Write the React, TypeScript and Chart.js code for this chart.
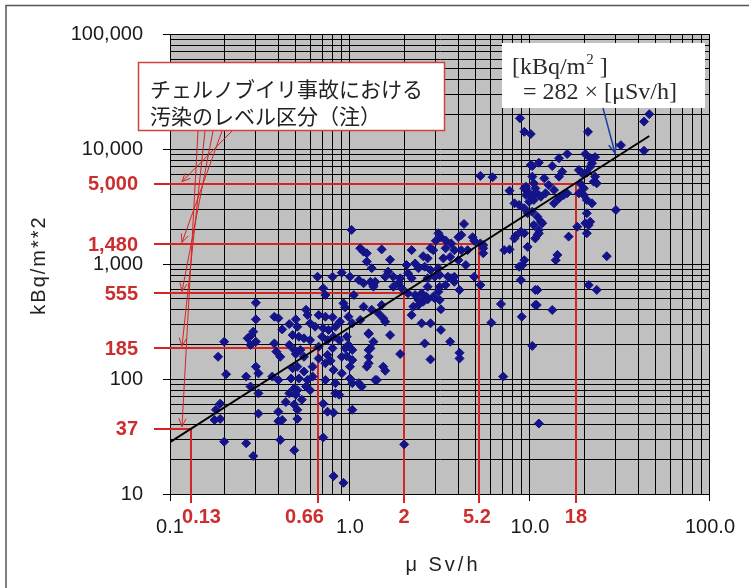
import React, { useEffect, useRef } from 'react';
import { Chart, registerables } from 'chart.js';

Chart.register(...registerables);

// Air dose rate (μSv/h) of each sampled point
const doseRate: number[] = [
  1.02, 1.14, 1.19, 1.24, 1.24, 1.32, 0.90, 0.66, 0.80, 1.0, 1.12, 1.19, 1.30, 1.35, 0.71, 0.73, 1.05, 0.30, 0.92, 0.94,
  0.57, 0.58, 1.19, 1.32, 0.67, 0.73, 0.80, 0.30, 0.38, 0.40, 0.50, 0.60, 0.64, 0.88, 0.98, 1.03, 1.14, 0.46, 0.42, 0.51,
  0.71, 0.76, 0.83, 0.29, 0.28, 0.27, 0.48, 0.52, 0.555, 0.60, 0.70, 0.75, 0.81, 0.87, 0.96, 0.98, 1.27, 0.20, 0.28, 0.30,
  0.38, 0.46, 0.49, 0.53, 0.67, 0.80, 0.94, 1.03, 1.30, 1.27, 0.185, 0.39, 0.41, 0.50, 0.555, 0.67, 0.75, 0.78, 0.90, 0.96,
  1.03, 0.30, 0.31, 0.205, 0.265, 0.37, 0.40, 0.48, 0.51, 0.555, 0.62, 0.73, 0.81, 0.90, 1.0, 1.27, 1.24, 0.47, 0.52, 0.58,
  0.62, 0.73, 0.83, 1.0, 1.03, 1.12, 1.16, 1.38, 0.28, 0.31, 0.49, 0.51, 0.57, 0.60, 0.83, 0.87, 0.46, 0.50, 0.19, 0.18,
  0.19, 0.177, 0.44, 0.49, 0.54, 0.71, 0.31, 0.40, 0.40, 0.42, 0.51, 0.51, 0.75, 0.81, 1.03, 0.71, 0.20, 0.265, 0.41, 0.49,
  0.29, 0.81, 0.92,
  10.1, 11.2, 10.3, 10.5, 5.3, 6.2, 7.7, 9.3, 9.7, 10.1, 10.7, 10.5, 9.9, 11.5, 8.2, 8.7, 9.3, 9.7, 10.3, 11.0,
  11.5, 10.5, 4.3, 8.9, 9.3, 8.3, 8.2, 11.0, 11.2, 10.7, 3.1, 3.2, 3.0, 3.4, 3.65, 4.0, 4.15, 4.8, 4.9, 5.5,
  5.5, 2.9, 2.8, 3.4, 3.8, 4.15, 4.5, 7.2, 7.7, 9.7, 1.50, 2.2, 2.55, 2.7, 3.3, 3.6, 4.0, 1.67, 2.06, 2.3,
  2.4, 2.6, 2.8, 3.1, 4.4, 9.1, 8.7, 9.3, 1.63, 1.57, 1.74, 1.9, 2.1, 2.2, 2.7, 2.96, 3.15, 3.5, 3.65, 3.8,
  4.9, 8.9, 1.35, 1.38, 1.74, 1.86, 1.94, 2.7, 3.15, 3.4, 3.8, 4.06, 5.3, 2.1, 2.3, 2.5, 2.66, 2.9, 3.1, 11.0,
  2.4, 2.55, 2.7, 2.96, 3.15, 1.5, 1.44, 2.25, 2.4, 3.2, 6.9, 10.9, 2.2, 1.53, 1.57, 2.5, 2.8, 6.1, 9.0, 1.27,
  1.35, 1.27, 1.67, 3.2, 2.6, 3.6, 4.06, 4.06, 1.9, 2.8, 1.53, 1.57, 1.41, 10.3, 7.1, 11.2, 2.0,
  8.8, 9.3, 10.1, 21, 43, 46, 43, 32, 16.1, 14.5, 10.3, 20.3, 21.6, 23, 22.1, 21.6, 13.3, 15.1, 14.5, 18.7,
  19.5, 20.7, 12.0, 23, 22.6, 23.5, 19.0, 19.9, 9.5, 10.7, 9.5, 11.2, 12.2, 12.7, 13.6, 14.5, 15.4, 16.1, 18.7, 19.9,
  13.6, 20.7, 22.1, 30, 11.7, 20.7, 21.6, 21.2, 20.3, 18.3, 11.2, 20.7, 16.4, 5.3, 5.5, 14.2, 13.9, 26.7, 23.5, 21.2,
  10.7, 10.7, 13.3,
];

// Soil deposition (kBq/m²) of the same points
const deposition: number[] = [
  1980, 1370, 1280, 1240, 1050, 920, 840, 775, 775, 775, 725, 680, 700, 635, 615, 537, 537, 460, 455, 420,
  400, 360, 425, 400, 360, 348, 344, 330, 348, 337, 330, 305, 285, 315, 348, 305, 326, 300, 270, 285,
  276, 267, 285, 258, 237, 226, 241, 233, 226, 218, 233, 218, 233, 218, 233, 198, 246, 211, 198, 211,
  204, 198, 179, 179, 191, 185, 185, 179, 185, 156, 156, 173, 156, 165, 156, 151, 162, 144, 156, 158,
  146, 128, 112, 110, 105, 105, 98, 124, 128, 116, 128, 137, 120, 112, 128, 137, 128, 101, 101, 98,
  105, 98, 92, 101, 92, 92, 86, 98, 86, 75, 83, 80, 86, 80, 75, 73, 75, 73, 61, 54,
  45, 44, 63, 60, 66, 61, 50, 52, 43, 44, 54, 45, 52, 51, 54, 31, 28.5, 27.6, 29.5, 24,
  21.4, 14.3, 12.5,
  7260, 7600, 5750, 5030, 5830, 5680, 4340, 4550, 4260, 3980, 4120, 3600, 3480, 3850, 3370, 3260, 3050, 2760, 2850, 2580,
  2330, 2180, 2230, 1910, 1850, 1750, 1670, 1790, 1980, 1670, 1850, 1710, 1590, 1600, 1510, 1710, 1790, 1710, 1590, 1460,
  1240, 1320, 1370, 1370, 1320, 1320, 1320, 1320, 1340, 1410, 1340, 1320, 1170, 1120, 1120, 1150, 1080, 1090, 980, 1010,
  918, 947, 887, 918, 980, 980, 947, 1080, 858, 775, 775, 752, 831, 752, 752, 775, 803, 775, 752, 775,
  775, 726, 656, 700, 635, 680, 615, 635, 635, 656, 700, 595, 656, 556, 537, 556, 520, 520, 575, 595,
  486, 470, 492, 502, 486, 440, 372, 426, 440, 404, 449, 440, 360, 337, 315, 305, 305, 309, 348, 250,
  211, 179, 241, 267, 204, 211, 169, 151, 165, 148, 128, 118, 98, 194, 105, 41, 27,
  18500, 14100, 13500, 14100, 17300, 20100, 9660, 10800, 9050, 8310, 7100, 9050, 8310, 8500, 7520, 7000, 7100, 6350, 5750, 6560,
  6150, 6230, 5560, 5750, 5200, 5030, 5030, 4550, 4700, 4550, 3980, 3980, 4120, 4860, 4400, 3720, 3980, 4120, 4120, 3980,
  3370, 3600, 3370, 2950, 2260, 2760, 2330, 2180, 2260, 2110, 1850, 1850, 1730, 1510, 1370, 1200, 1080, 1170, 595, 656,
  595, 440, 398,
];

// Regression line [kBq/m2] = 282 × [μSv/h]
const fitDose: number[] = [0.1, 46];
const fitDeposit: number[] = [28.2, 12970];

// Chernobyl contamination level classes
const levelDose: number[] = [0.13, 0.66, 2, 5.2, 18];
const levelDeposit: number[] = [37, 185, 555, 1480, 5000];
const levelDoseLabels: string[] = ['0.13', '0.66', '2', '5.2', '18'];
const levelDepositLabels: string[] = ['37', '185', '555', '1,480', '5,000'];

// Axis decade labels
const xMajorValues: number[] = [0.1, 1, 10, 100];
const xMajorLabels: string[] = ['0.1', '1.0', '10.0', '100.0'];
const yMajorValues: number[] = [10, 100, 1000, 10000, 100000];
const yMajorLabels: string[] = ['10', '100', '1,000', '10,000', '100,000'];

const xTitle = 'μ Sv/h';
const yTitle = 'kBq/m**2';
const noteLines: string[] = ['チェルノブイリ事故における', '汚染のレベル区分（注）'];
const formulaLine1 = '[kBq/m';
const formulaLine2 = '= 282 × [μSv/h]';

const RED_LINE = '#d42424';
const RED_TEXT = '#cc2e2e';
const SANS = '"Liberation Sans", Arial, sans-serif';

const near = (a: number, b: number) => Math.abs(a - b) / b < 1e-6;
const majorIndex = (arr: number[], v: number) => arr.findIndex((m) => near(v, m));

function logTicks(min: number, max: number) {
  const ticks: { value: number }[] = [];
  for (let e = Math.floor(Math.log10(min)); e <= Math.ceil(Math.log10(max)); e++) {
    for (let m = 1; m <= 9; m++) {
      const v = Number((m * Math.pow(10, e)).toPrecision(3));
      if (v >= min * 0.999999 && v <= max * 1.000001) ticks.push({ value: v });
    }
  }
  return ticks;
}

function arrowHead(ctx: CanvasRenderingContext2D, sx: number, sy: number, tx: number, ty: number, len: number) {
  const ang = Math.atan2(ty - sy, tx - sx);
  ctx.beginPath();
  ctx.moveTo(tx - len * Math.cos(ang - 0.42), ty - len * Math.sin(ang - 0.42));
  ctx.lineTo(tx, ty);
  ctx.lineTo(tx - len * Math.cos(ang + 0.42), ty - len * Math.sin(ang + 0.42));
  ctx.stroke();
}

const arrowStartX = [198, 205, 213, 222, 232];
const labelShiftX = [11, -13, 0, -2, 0];

const decorations = {
  id: 'decorations',
  beforeDraw(chart: any) {
    const { ctx, chartArea: a } = chart;
    ctx.save();
    ctx.fillStyle = '#ffffff';
    ctx.fillRect(0, 0, chart.width, chart.height);
    ctx.fillStyle = '#c0c0c0';
    ctx.fillRect(a.left, a.top, a.right - a.left, a.bottom - a.top);
    ctx.restore();
  },
  beforeDatasetsDraw(chart: any) {
    const { ctx, chartArea: a } = chart;
    const xs = chart.scales.x;
    const ys = chart.scales.y;
    ctx.save();
    ctx.strokeStyle = RED_LINE;
    ctx.lineWidth = 2;
    for (let i = 0; i < levelDose.length; i++) {
      const px = Math.round(xs.getPixelForValue(levelDose[i]));
      const py = Math.round(ys.getPixelForValue(levelDeposit[i]));
      ctx.beginPath();
      ctx.moveTo(a.left - 16, py);
      ctx.lineTo(px, py);
      ctx.lineTo(px, a.bottom + 9);
      ctx.stroke();
    }
    ctx.restore();
  },
  afterDraw(chart: any) {
    const { ctx, chartArea: a } = chart;
    const xs = chart.scales.x;
    const ys = chart.scales.y;
    ctx.save();

    // red level labels
    ctx.fillStyle = RED_TEXT;
    ctx.font = `bold 20px ${SANS}`;
    ctx.textBaseline = 'middle';
    for (let i = 0; i < levelDose.length; i++) {
      const px = xs.getPixelForValue(levelDose[i]);
      const py = ys.getPixelForValue(levelDeposit[i]);
      ctx.textAlign = 'right';
      ctx.fillText(levelDepositLabels[i], a.left - 32, py + 1);
      ctx.textAlign = 'center';
      ctx.fillText(levelDoseLabels[i], px + labelShiftX[i], a.bottom + 23);
    }

    // note box
    ctx.fillStyle = '#ffffff';
    ctx.fillRect(138, 62, 307, 69);
    ctx.strokeStyle = '#d04040';
    ctx.lineWidth = 1.5;
    ctx.strokeRect(138.5, 62.5, 306, 68);
    ctx.fillStyle = '#222222';
    ctx.font = '21px "Noto Sans CJK JP", sans-serif';
    ctx.textAlign = 'left';
    ctx.textBaseline = 'middle';
    ctx.fillText(noteLines[0], 150, 89);
    ctx.fillText(noteLines[1], 150, 116);

    // arrows from the note to each level
    ctx.strokeStyle = RED_LINE;
    ctx.lineWidth = 1;
    for (let i = 0; i < levelDeposit.length; i++) {
      const tx = a.left + 12;
      const ty = ys.getPixelForValue(levelDeposit[i]) - 2;
      const sx = arrowStartX[i];
      const sy = 131;
      ctx.beginPath();
      ctx.moveTo(sx, sy);
      ctx.lineTo(tx, ty);
      ctx.stroke();
      arrowHead(ctx, sx, sy, tx, ty, 9);
    }

    // formula box
    ctx.fillStyle = '#ffffff';
    ctx.fillRect(502, 43, 203, 65);
    ctx.fillStyle = '#2a2a2a';
    ctx.textBaseline = 'alphabetic';
    ctx.font = '24px "Liberation Serif", "Times New Roman", serif';
    ctx.fillText(formulaLine1, 512, 74);
    const w1 = ctx.measureText(formulaLine1).width;
    ctx.font = '15px "Liberation Serif", "Times New Roman", serif';
    ctx.fillText('2', 512 + w1 + 1, 64);
    const w2 = ctx.measureText('2').width;
    ctx.font = '24px "Liberation Serif", "Times New Roman", serif';
    ctx.fillText(' ]', 512 + w1 + w2 + 1, 74);
    ctx.fillText(formulaLine2, 523, 99);

    // blue arrow to the regression line
    ctx.strokeStyle = '#1f3f9f';
    ctx.lineWidth = 1.5;
    ctx.beginPath();
    ctx.moveTo(603, 108);
    ctx.lineTo(615, 153);
    ctx.stroke();
    arrowHead(ctx, 603, 108, 615, 153, 10);

    // axis titles
    ctx.fillStyle = '#222222';
    ctx.font = `20px ${SANS}`;
    ctx.textAlign = 'center';
    ctx.textBaseline = 'middle';
    (ctx as any).letterSpacing = '3px';
    ctx.fillText(xTitle, (a.left + a.right) / 2 + 3, 565);
    ctx.save();
    ctx.translate(39, (a.top + a.bottom) / 2 + 1);
    ctx.rotate(-Math.PI / 2);
    (ctx as any).letterSpacing = '2px';
    ctx.fillText(yTitle, 0, 0);
    ctx.restore();
    (ctx as any).letterSpacing = '0px';

    // frame
    ctx.strokeStyle = '#555555';
    ctx.lineWidth = 1.5;
    ctx.beginPath();
    ctx.moveTo(6, 588);
    ctx.lineTo(6, 5.5);
    ctx.lineTo(749, 5.5);
    ctx.stroke();

    ctx.restore();
  },
};

export default function App() {
  const canvasRef = useRef<HTMLCanvasElement | null>(null);

  useEffect(() => {
    const canvas = canvasRef.current;
    if (!canvas) return;
    const points = doseRate.map((x, i) => ({ x, y: deposition[i] }));
    const fit = fitDose.map((x, i) => ({ x, y: fitDeposit[i] }));

    const chart = new Chart(canvas, {
      type: 'scatter',
      data: {
        datasets: [
          {
            label: 'fit',
            data: fit,
            showLine: true,
            borderColor: '#000000',
            borderWidth: 2,
            pointRadius: 0,
          },
          {
            label: 'points',
            data: points,
            pointStyle: 'rectRot',
            pointRadius: 4.5,
            pointBackgroundColor: '#141488',
            pointBorderColor: '#141488',
            pointBorderWidth: 1,
          },
        ],
      },
      options: {
        responsive: false,
        maintainAspectRatio: false,
        devicePixelRatio: 1,
        animation: false,
        events: [],
        layout: { padding: { left: 0, right: 35, top: 34, bottom: 0 } },
        plugins: {
          legend: { display: false },
          tooltip: { enabled: false },
          title: { display: false },
        },
        scales: {
          x: {
            type: 'logarithmic',
            min: 0.1,
            max: 100,
            afterBuildTicks: (scale: any) => {
              scale.ticks = logTicks(0.1, 100);
            },
            afterFit: (scale: any) => {
              scale.height = 94;
            },
            ticks: {
              autoSkip: false,
              maxRotation: 0,
              padding: 14,
              color: '#1a1a1a',
              font: { family: SANS, size: 20 },
              callback: (v: any) => {
                const k = majorIndex(xMajorValues, Number(v));
                return k >= 0 ? xMajorLabels[k] : '';
              },
            },
            grid: {
              color: '#000000',
              lineWidth: 1,
              tickLength: 7,
              tickColor: (c: any) =>
                c.tick && majorIndex(xMajorValues, c.tick.value) >= 0 ? '#000000' : 'rgba(0,0,0,0)',
            },
            border: { display: true, color: '#000000', width: 1 },
          },
          y: {
            type: 'logarithmic',
            min: 10,
            max: 100000,
            afterBuildTicks: (scale: any) => {
              scale.ticks = logTicks(10, 100000);
            },
            afterFit: (scale: any) => {
              scale.width = 170;
            },
            ticks: {
              autoSkip: false,
              padding: 20,
              color: '#1a1a1a',
              font: { family: SANS, size: 20 },
              callback: (v: any) => {
                const k = majorIndex(yMajorValues, Number(v));
                return k >= 0 ? yMajorLabels[k] : '';
              },
            },
            grid: {
              color: '#000000',
              lineWidth: 1,
              tickLength: 7,
              tickColor: (c: any) =>
                c.tick && majorIndex(yMajorValues, c.tick.value) >= 0 ? '#000000' : 'rgba(0,0,0,0)',
            },
            border: { display: true, color: '#000000', width: 1 },
          },
        },
      },
      plugins: [decorations],
    } as any);

    return () => {
      chart.destroy();
    };
  }, []);

  return (
    <div style={{ position: 'absolute', left: 0, top: 0, width: 749, height: 588, background: '#ffffff' }}>
      <canvas ref={canvasRef} width={749} height={588} style={{ display: 'block' }} />
    </div>
  );
}
